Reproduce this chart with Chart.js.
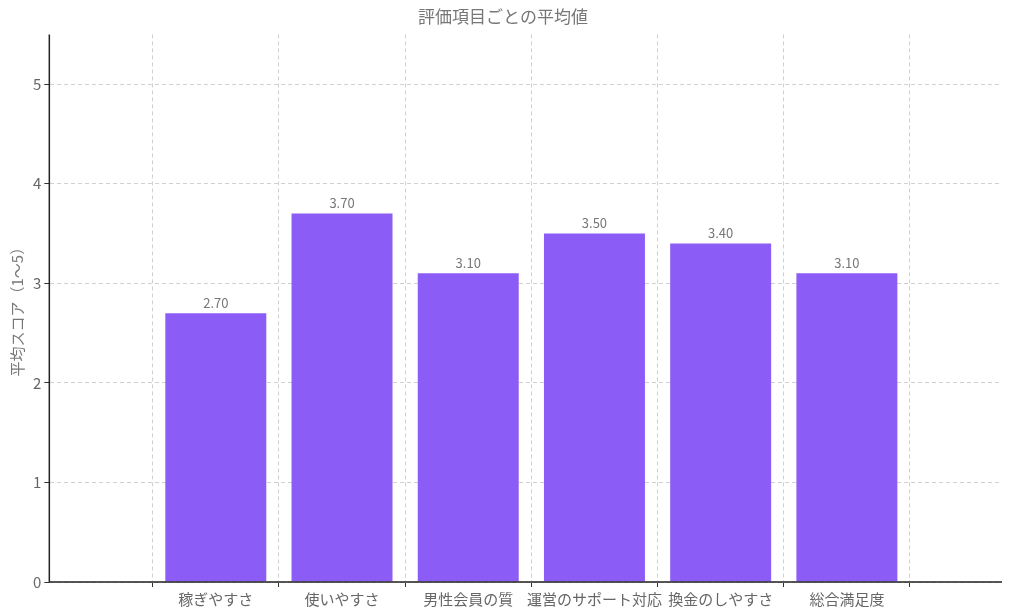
<!DOCTYPE html>
<html><head><meta charset="utf-8">
<script src="https://cdn.jsdelivr.net/npm/chart.js@4/dist/chart.umd.min.js"></script>
<style>html,body{margin:0;padding:0;background:#fff}#w{width:1024px;height:611px}</style>
</head><body><div id="w"><canvas id="c"></canvas></div>
<script>
const categories=["稼ぎやすさ","使いやすさ","男性会員の質","運営のサポート対応","換金のしやすさ","総合満足度"];
const values=[2.7,3.7,3.1,3.5,3.4,3.1];
const yTicks=[0,1,2,3,4,5];
const F="'Noto Sans CJK JP','Noto Sans',sans-serif";
const labelPlugin={id:'lbl',afterDatasetsDraw(ch){const ctx=ch.ctx;const m=ch.getDatasetMeta(0);ctx.save();ctx.fillStyle='#777';ctx.font="13px "+F;ctx.textAlign='center';ctx.textBaseline='bottom';m.data.forEach((b,i)=>{ctx.fillText(values[i].toFixed(2),b.x,b.y-4);});
const a=ch.chartArea;ctx.strokeStyle='#222';ctx.lineWidth=1.5;ctx.setLineDash([]);ctx.beginPath();ctx.moveTo(a.left,a.top);ctx.lineTo(a.left,a.bottom);ctx.lineTo(a.right,a.bottom);ctx.stroke();ctx.restore();}};
new Chart(document.getElementById('c'),{type:'bar',data:{datasets:[{data:values.map((v,i)=>({x:i,y:v})),backgroundColor:'#8b5cf6',barPercentage:0.8,categoryPercentage:1}]},
options:{responsive:true,maintainAspectRatio:false,animation:false,layout:{padding:{left:4,right:22,top:0,bottom:0}},
plugins:{legend:{display:false},tooltip:{enabled:false},title:{display:true,text:'評価項目ごとの平均値',color:'#777',font:{family:F,size:17,weight:'normal'},padding:{top:6,bottom:8}}},
scales:{x:{type:'linear',min:-0.69,max:5.6,afterBuildTicks(s){s.ticks=categories.map((c,i)=>({value:i}));},grid:{color:'#d0d0d0',tickColor:'#333',tickLength:5},border:{display:true,color:'rgba(0,0,0,0)',dash:[4,3]},ticks:{color:'#666',font:{family:F,size:15},callback:(v)=>categories[v]}},
y:{min:0,max:5.5,afterBuildTicks(s){s.ticks=yTicks.map(v=>({value:v}));},grid:{color:'#d0d0d0',tickColor:'#333',tickLength:5},border:{display:true,color:'rgba(0,0,0,0)',dash:[4,3]},ticks:{color:'#666',font:{family:F,size:15}},title:{display:true,text:'平均スコア（1〜5）',color:'#777',font:{family:F,size:15}}}}},
plugins:[labelPlugin]});
</script></body></html>
